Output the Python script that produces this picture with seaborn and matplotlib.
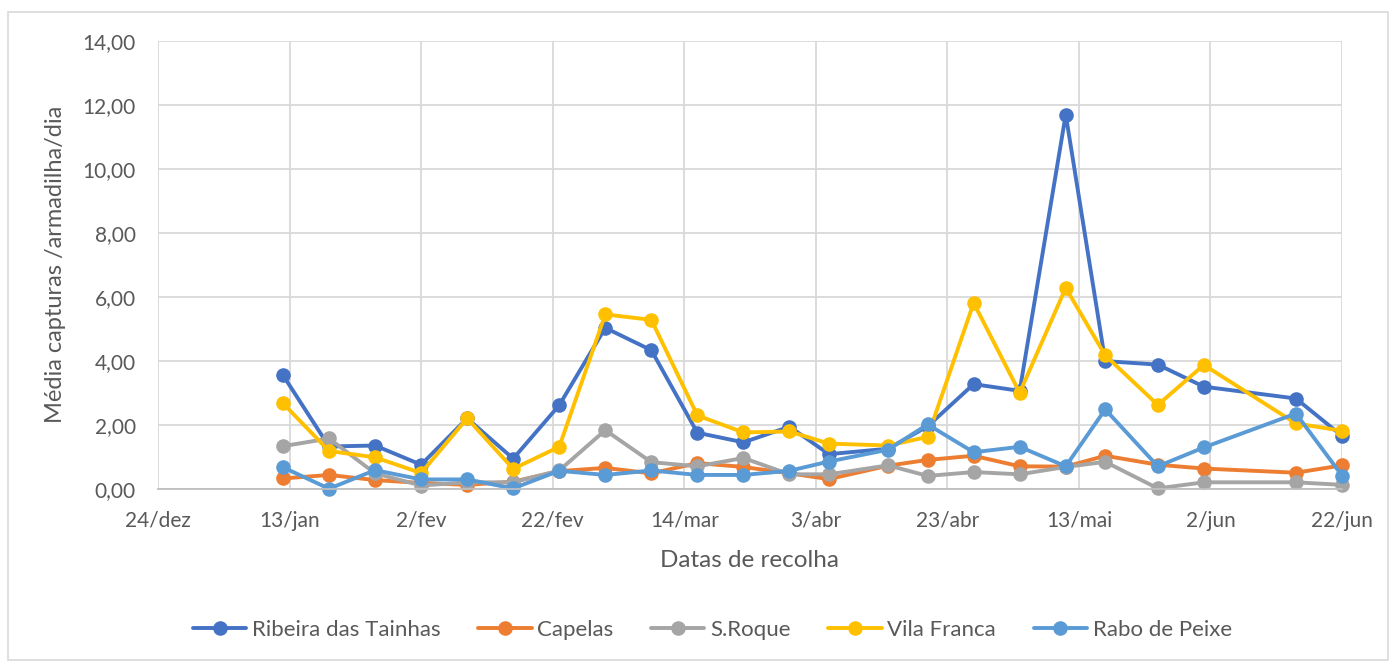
import numpy as np
import pandas as pd
import matplotlib
matplotlib.use("Agg")
import matplotlib.pyplot as plt
import matplotlib.dates as mdates
from matplotlib.patches import Rectangle
from matplotlib.ticker import FuncFormatter
import seaborn as sns

# collection dates (weekly-ish)
dates = ["2021-01-12", "2021-01-19", "2021-01-26", "2021-02-02", "2021-02-09",
         "2021-02-16", "2021-02-23", "2021-03-02", "2021-03-09", "2021-03-16",
         "2021-03-23", "2021-03-30", "2021-04-05", "2021-04-14", "2021-04-20",
         "2021-04-27", "2021-05-04", "2021-05-11", "2021-05-17", "2021-05-25",
         "2021-06-01", "2021-06-15", "2021-06-22"]

# mean captures per trap per day
ribeira = [3.55, 1.32, 1.35, 0.75, 2.20, 0.94, 2.61, 5.03, 4.33, 1.75, 1.45, 1.94,
           1.08, 1.25, 1.95, 3.27, 3.06, 11.70, 3.99, 3.88, 3.19, 2.82, 1.65]
capelas = [0.32, 0.43, 0.27, 0.18, 0.12, 0.22, 0.55, 0.65, 0.48, 0.80, 0.68, 0.48,
           0.30, 0.72, 0.90, 1.03, 0.70, 0.69, 1.03, 0.75, 0.63, 0.50, 0.73]
sroque = [1.33, 1.57, 0.48, 0.10, 0.20, 0.20, 0.57, 1.83, 0.83, 0.70, 0.96, 0.45,
          0.45, 0.73, 0.40, 0.52, 0.45, 0.68, 0.84, 0.01, 0.20, 0.20, 0.12]
vila_franca = [2.67, 1.18, 0.98, 0.49, 2.20, 0.62, 1.31, 5.45, 5.28, 2.29, 1.76, 1.79,
               1.41, 1.35, 1.62, 5.81, 3.00, 6.28, 4.17, 2.62, 3.87, 2.04, 1.81]
rabo_peixe = [0.67, 0.00, 0.58, 0.29, 0.29, 0.01, 0.56, 0.43, 0.57, 0.43, 0.43, 0.56,
              0.85, 1.22, 2.01, 1.14, 1.31, 0.70, 2.48, 0.70, 1.29, 2.35, 0.41]

series_names = ["Ribeira das Tainhas", "Capelas", "S.Roque", "Vila Franca", "Rabo de Peixe"]
colors = ["#4472C4", "#ED7D31", "#A5A5A5", "#FFC000", "#5B9BD5"]

tick_labels = ["24/dez", "13/jan", "2/fev", "22/fev", "14/mar",
               "3/abr", "23/abr", "13/mai", "2/jun", "22/jun"]

# long format table for seaborn
df = pd.DataFrame({
    "data": pd.to_datetime(dates * 5),
    "valor": ribeira + capelas + sroque + vila_franca + rabo_peixe,
    "local": np.repeat(series_names, len(dates)),
})

sns.set_theme(style="white")
plt.rcParams["font.family"] = ["Lato", "DejaVu Sans"]

fig = plt.figure(figsize=(13.94, 6.62), dpi=100)
ax = fig.add_axes([158 / 1394, 1 - 488.7 / 662, (1342 - 158) / 1394, (488.7 - 41) / 662])

sns.lineplot(data=df, x="data", y="valor", hue="local", hue_order=series_names,
             palette=colors, marker="o", markersize=10.5, markeredgewidth=0,
             linewidth=2.8, ax=ax)
for line in ax.lines:
    line.set_clip_on(False)

# axes styling
start = pd.Timestamp("2020-12-24")
ticks = pd.date_range(start, periods=len(tick_labels), freq="20D")
ax.set_xlim(mdates.date2num(ticks[0]), mdates.date2num(ticks[-1]))
ax.set_ylim(0, 14)
ax.set_xticks(mdates.date2num(ticks))
ax.set_xticklabels(tick_labels)
ax.set_yticks(np.arange(0, 15, 2))
ax.yaxis.set_major_formatter(FuncFormatter(lambda v, p: f"{v:.2f}".replace(".", ",")))

ax.grid(True, color="#D9D9D9", linewidth=1.3)
ax.set_axisbelow(True)
for side in ["top", "right", "left"]:
    ax.spines[side].set_visible(False)
ax.spines["bottom"].set_color("#BFBFBF")
ax.spines["bottom"].set_linewidth(1.3)
ax.tick_params(axis="both", length=0, labelsize=15, labelcolor="#595959")
ax.tick_params(axis="y", pad=16)
ax.tick_params(axis="x", pad=16)

ax.set_xlabel("Datas de recolha", fontsize=17.5, color="#595959", labelpad=14)
ax.set_ylabel("Média capturas /armadilha/dia", fontsize=17, color="#595959", labelpad=12)

# legend below the chart
handles, labels = ax.get_legend_handles_labels()
ax.get_legend().remove()
fig.legend(handles, labels, loc="center", bbox_to_anchor=(0.511, 0.049), ncol=5,
           frameon=False, fontsize=16, labelcolor="#595959", handlelength=2.4,
           handletextpad=0.25, columnspacing=1.7)

# chart area border
fig.patches.append(Rectangle((8 / 1394, 2 / 662), 1380 / 1394, 648 / 662,
                             transform=fig.transFigure, fill=False,
                             edgecolor="#D9D9D9", linewidth=1.2))

fig.savefig("out.png", dpi=100)
